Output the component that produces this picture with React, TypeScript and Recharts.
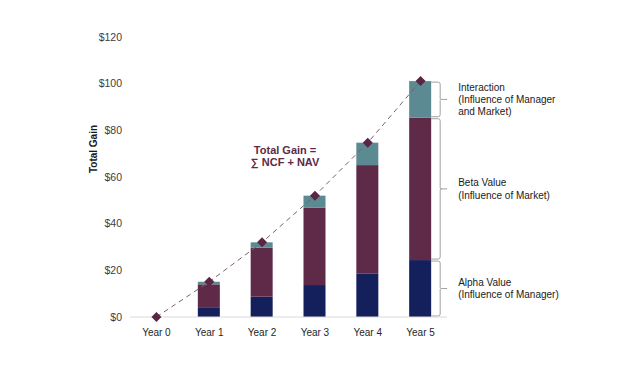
import {
  ComposedChart,
  Bar,
  Line,
  XAxis,
  YAxis,
  ReferenceDot,
} from "recharts";

const years = ["Year 0", "Year 1", "Year 2", "Year 3", "Year 4", "Year 5"];
const alphaValue = [0, 3.9, 8.7, 13.7, 18.7, 24.4];
const betaValue = [0, 10.1, 21.0, 33.1, 46.4, 61.0];
const interaction = [0, 1.1, 2.3, 5.2, 9.6, 15.7];
const totalGain = [0, 15.1, 32.0, 52.0, 74.7, 101.1];
const yTicks = [0, 20, 40, 60, 80, 100, 120];

const alphaLabel = ["Alpha Value", "(Influence of Manager)"];
const betaLabel = ["Beta Value", "(Influence of Market)"];
const interactionLabel = ["Interaction", "(Influence of Manager", "and Market)"];

const data = years.map((year, i) => ({
  year,
  alpha: alphaValue[i],
  beta: betaValue[i],
  interaction: interaction[i],
  total: totalGain[i],
}));

const LAST = years.length - 1;
const FONT = "'Liberation Sans', Arial, sans-serif";

// bar segment with a curly brace + caption next to the last column
const braceShape = (lines: string[]) => (props: any) => {
  const { x, y, width, height, fill, index } = props;
  if (!height) return <g />;
  const bx = x + width;
  const vx = bx + 9;
  const y1 = y + 1;
  const y2 = y + height - 1;
  const ym = (y1 + y2) / 2;
  const lh = 12.3;
  const first = ym - ((lines.length - 1) * lh) / 2 + 3.5;
  return (
    <g>
      <rect x={x} y={y} width={width} height={height} fill={fill} />
      {index === LAST && (
        <g>
          <path
            d={`M${bx} ${y1} L${vx - 2} ${y1} Q${vx} ${y1} ${vx} ${y1 + 2} L${vx} ${ym - 1} Q${vx} ${ym} ${vx + 2} ${ym} L${vx + 7} ${ym} M${vx + 2} ${ym} Q${vx} ${ym} ${vx} ${ym + 1} L${vx} ${y2 - 2} Q${vx} ${y2} ${vx - 2} ${y2} L${bx} ${y2}`}
            fill="none"
            stroke="#a0a0a0"
            strokeWidth={1}
          />
          <text fontFamily={FONT} fontSize={10} fill="#1a1a1a">
            {lines.map((l, i) => (
              <tspan key={i} x={bx + 27} y={first + i * lh}>
                {l}
              </tspan>
            ))}
          </text>
        </g>
      )}
    </g>
  );
};

const Diamond = (props: any) => {
  const { cx, cy } = props;
  if (cx == null || cy == null) return <g />;
  return (
    <path
      d={`M${cx} ${cy - 5} L${cx + 5} ${cy} L${cx} ${cy + 5} L${cx - 5} ${cy} Z`}
      fill="#5b2645"
    />
  );
};

const FormulaNote = (props: any) => {
  const { cx, cy } = props;
  return (
    <text fontFamily={FONT} fontSize={11} fontWeight={600} fill="#5e2a47" textAnchor="middle">
      <tspan x={cx + 23} y={cy - 2}>Total Gain =</tspan>
      <tspan x={cx + 23} y={cy + 10}>∑ NCF + NAV</tspan>
    </text>
  );
};

export default function App() {
  return (
    <div style={{ position: "absolute", left: 0, top: 0, background: "#fff" }}>
      <ComposedChart
        width={637}
        height={380}
        data={data}
        margin={{ top: 37, right: 190, bottom: 33, left: 0 }}
      >
        <XAxis
          dataKey="year"
          tickLine={false}
          axisLine={{ stroke: "#d9d9d9" }}
          tick={{ fill: "#262626", fontSize: 10, fontFamily: FONT }}
          tickMargin={6}
          height={30}
        />
        <YAxis
          domain={[0, 120]}
          ticks={yTicks}
          width={130}
          axisLine={false}
          tickLine={false}
          tick={{ fill: "#404040", fontSize: 10.5, fontFamily: FONT }}
          tickFormatter={(v) => `$${v}`}
          label={{
            value: "Total Gain",
            angle: -90,
            position: "insideLeft",
            dx: 88,
            dy: -28,
            style: { fill: "#1a1a1a", fontSize: 10, fontWeight: 600, fontFamily: FONT, textAnchor: "middle" },
          }}
        />
        <Bar dataKey="alpha" stackId="g" fill="#13205c" barSize={22} isAnimationActive={false} shape={braceShape(alphaLabel)} />
        <Bar dataKey="beta" stackId="g" fill="#5e2a47" barSize={22} isAnimationActive={false} shape={braceShape(betaLabel)} />
        <Bar dataKey="interaction" stackId="g" fill="#5b8a93" barSize={22} isAnimationActive={false} shape={braceShape(interactionLabel)} />
        <Line
          dataKey="total"
          stroke="#76636f"
          strokeWidth={1}
          strokeDasharray="5 4"
          dot={<Diamond />}
          activeDot={false}
          isAnimationActive={false}
        />
        <ReferenceDot x="Year 2" y={69} r={0} shape={<FormulaNote />} />
      </ComposedChart>
    </div>
  );
}
